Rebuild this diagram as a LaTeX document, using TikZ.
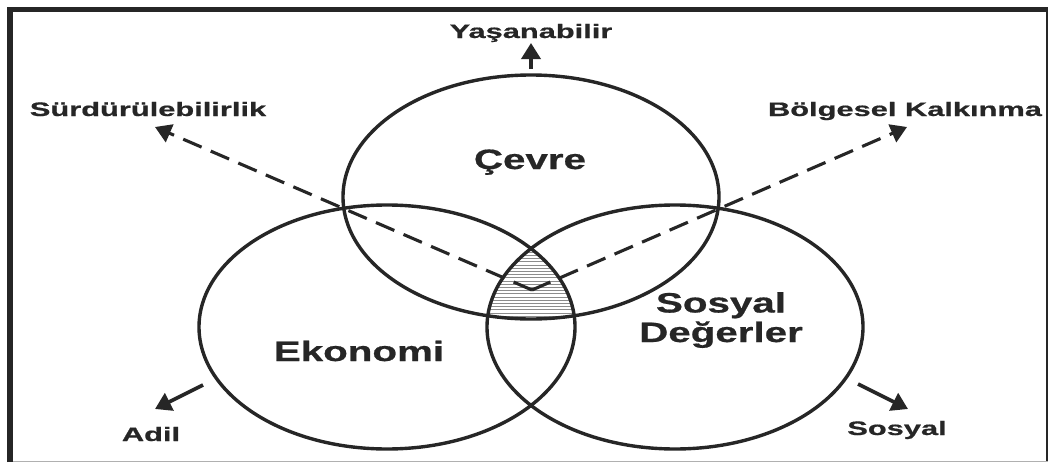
\documentclass[tikz,border=0pt]{standalone}
\usepackage{fontspec}
\setmainfont{Liberation Sans}[BoldFeatures={FakeBold=0.6}]
\usetikzlibrary{arrows.meta,shapes.geometric}
\definecolor{ink}{HTML}{262626}
\definecolor{hatchc}{HTML}{8C8C8C}
\definecolor{framelight}{HTML}{B0B0B0}
\begin{document}
\begin{tikzpicture}[x=1pt,y=-1pt,
  ring/.style={ellipse, draw=ink, line width=3.4pt, minimum width=376pt, minimum height=244pt, inner sep=0pt},
  big/.style={font=\bfseries\fontsize{28}{29.5}\selectfont, text=ink, xscale=1.44, inner sep=0pt, align=center, anchor=base},
  small/.style={font=\bfseries\fontsize{19.5}{20}\selectfont, text=ink, xscale=1.58, inner sep=0pt, anchor=base},
  solidarrow/.style={draw=ink, line width=3.6pt, -{Triangle[width=19pt,length=16pt]}},
  dasharrow/.style={draw=ink, line width=3.1pt, dash pattern=on 20pt off 10pt, -{Triangle[width=19pt,length=16pt]}},
]
\useasboundingbox (0,0) rectangle (1050,463);
\fill[white] (0,0) rectangle (1050,463);
% frame
\draw[ink, line width=2pt] (1047,9) -- (1047,461);
\draw[framelight, line width=1.5pt] (10,461.5) -- (1048,461.5);
\draw[ink, line width=6pt] (10,462) -- (10,9.5);
\draw[ink, line width=5pt] (7,9.5) -- (1048,9.5);

% hatch in triple intersection
\begin{scope}
  \clip (531,197) ellipse [x radius=188pt, y radius=122pt];
  \clip (387,327) ellipse [x radius=188pt, y radius=122pt];
  \clip (675,327) ellipse [x radius=188pt, y radius=122pt];
  \foreach \yy in {249,252.2,...,321} \draw[hatchc, line width=0.7pt] (470,\yy) -- (600,\yy);
\end{scope}

% circles
\node[ring] (cevreC) at (531,197) {};
\node[ring] (ekoC) at (387,327) {};
\node[ring] (sosC) at (675,327) {};

% labels inside
\node[big] (cevre) at (530,169) {Çevre};
\node[big] (eko) at (359,361) {Ekonomi};
\node[big] (sos) at (721,342) {Sosyal\\Değerler};

% outer labels
\node[small] (yas) at (531,38) {Yaşanabilir};
\node[small] (surd) at (148,116) {Sürdürülebilirlik};
\node[small] (bolg) at (905,116) {Bölgesel Kalkınma};
\node[small] (adil) at (151,441) {Adil};
\node[small] (sosyal) at (897,435) {Sosyal};

% arrow end points
\coordinate (center) at (532,290);
\coordinate (surdTip) at (155,127);
\coordinate (bolgTip) at (907,127);
\coordinate (yasFrom) at (531,69);
\coordinate (yasTip) at (531,43);
\coordinate (adilFrom) at (203,385);
\coordinate (adilTip) at (155,409);
\coordinate (sosFrom) at (858,384);
\coordinate (sosTip) at (908,409);

\draw[dasharrow] (center) -- (surdTip);
\draw[dasharrow] (center) -- (bolgTip);
\draw[solidarrow] (yasFrom) -- (yasTip);
\draw[solidarrow] (adilFrom) -- (adilTip);
\draw[solidarrow] (sosFrom) -- (sosTip);
\end{tikzpicture}
\end{document}
